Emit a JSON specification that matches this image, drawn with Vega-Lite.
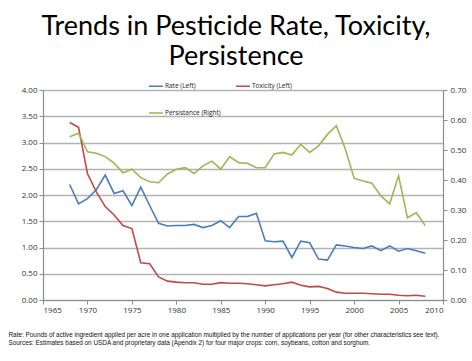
{
  "$schema": "https://vega.github.io/schema/vega-lite/v6.json",
  "width": 400,
  "height": 210,
  "autosize": {"type": "none"},
  "padding": {"left": 43, "top": 90, "right": 29, "bottom": 61},
  "background": "white",
  "config": {"view": {"stroke": null}, "font": "Open Sans"},
  "title": {
    "text": ["Trends in Pesticide Rate, Toxicity,", "Persistence"],
    "font": "Lato",
    "fontSize": 27,
    "fontWeight": "normal",
    "color": "#000000",
    "anchor": "middle",
    "dx": -7,
    "offset": 7,
    "lineHeight": 30
  },
  "data": {
    "values": [
      {"year": 1968, "series": "Rate (Left)", "value": 2.20},
      {"year": 1969, "series": "Rate (Left)", "value": 1.83},
      {"year": 1970, "series": "Rate (Left)", "value": 1.93},
      {"year": 1971, "series": "Rate (Left)", "value": 2.10},
      {"year": 1972, "series": "Rate (Left)", "value": 2.38},
      {"year": 1973, "series": "Rate (Left)", "value": 2.03},
      {"year": 1974, "series": "Rate (Left)", "value": 2.08},
      {"year": 1975, "series": "Rate (Left)", "value": 1.80},
      {"year": 1976, "series": "Rate (Left)", "value": 2.15},
      {"year": 1977, "series": "Rate (Left)", "value": 1.80},
      {"year": 1978, "series": "Rate (Left)", "value": 1.46},
      {"year": 1979, "series": "Rate (Left)", "value": 1.41},
      {"year": 1980, "series": "Rate (Left)", "value": 1.42},
      {"year": 1981, "series": "Rate (Left)", "value": 1.42},
      {"year": 1982, "series": "Rate (Left)", "value": 1.44},
      {"year": 1983, "series": "Rate (Left)", "value": 1.38},
      {"year": 1984, "series": "Rate (Left)", "value": 1.42},
      {"year": 1985, "series": "Rate (Left)", "value": 1.51},
      {"year": 1986, "series": "Rate (Left)", "value": 1.38},
      {"year": 1987, "series": "Rate (Left)", "value": 1.59},
      {"year": 1988, "series": "Rate (Left)", "value": 1.59},
      {"year": 1989, "series": "Rate (Left)", "value": 1.65},
      {"year": 1990, "series": "Rate (Left)", "value": 1.13},
      {"year": 1991, "series": "Rate (Left)", "value": 1.11},
      {"year": 1992, "series": "Rate (Left)", "value": 1.12},
      {"year": 1993, "series": "Rate (Left)", "value": 0.81},
      {"year": 1994, "series": "Rate (Left)", "value": 1.12},
      {"year": 1995, "series": "Rate (Left)", "value": 1.09},
      {"year": 1996, "series": "Rate (Left)", "value": 0.78},
      {"year": 1997, "series": "Rate (Left)", "value": 0.76},
      {"year": 1998, "series": "Rate (Left)", "value": 1.05},
      {"year": 1999, "series": "Rate (Left)", "value": 1.03},
      {"year": 2000, "series": "Rate (Left)", "value": 1.00},
      {"year": 2001, "series": "Rate (Left)", "value": 0.98},
      {"year": 2002, "series": "Rate (Left)", "value": 1.03},
      {"year": 2003, "series": "Rate (Left)", "value": 0.94},
      {"year": 2004, "series": "Rate (Left)", "value": 1.03},
      {"year": 2005, "series": "Rate (Left)", "value": 0.93},
      {"year": 2006, "series": "Rate (Left)", "value": 0.98},
      {"year": 2007, "series": "Rate (Left)", "value": 0.94},
      {"year": 2008, "series": "Rate (Left)", "value": 0.89},
      {"year": 1968, "series": "Toxicity (Left)", "value": 3.38},
      {"year": 1969, "series": "Toxicity (Left)", "value": 3.29},
      {"year": 1970, "series": "Toxicity (Left)", "value": 2.41},
      {"year": 1971, "series": "Toxicity (Left)", "value": 2.06},
      {"year": 1972, "series": "Toxicity (Left)", "value": 1.78},
      {"year": 1973, "series": "Toxicity (Left)", "value": 1.62},
      {"year": 1974, "series": "Toxicity (Left)", "value": 1.42},
      {"year": 1975, "series": "Toxicity (Left)", "value": 1.36},
      {"year": 1976, "series": "Toxicity (Left)", "value": 0.71},
      {"year": 1977, "series": "Toxicity (Left)", "value": 0.69},
      {"year": 1978, "series": "Toxicity (Left)", "value": 0.44},
      {"year": 1979, "series": "Toxicity (Left)", "value": 0.36},
      {"year": 1980, "series": "Toxicity (Left)", "value": 0.34},
      {"year": 1981, "series": "Toxicity (Left)", "value": 0.33},
      {"year": 1982, "series": "Toxicity (Left)", "value": 0.33},
      {"year": 1983, "series": "Toxicity (Left)", "value": 0.30},
      {"year": 1984, "series": "Toxicity (Left)", "value": 0.30},
      {"year": 1985, "series": "Toxicity (Left)", "value": 0.33},
      {"year": 1986, "series": "Toxicity (Left)", "value": 0.32},
      {"year": 1987, "series": "Toxicity (Left)", "value": 0.32},
      {"year": 1988, "series": "Toxicity (Left)", "value": 0.31},
      {"year": 1989, "series": "Toxicity (Left)", "value": 0.29},
      {"year": 1990, "series": "Toxicity (Left)", "value": 0.27},
      {"year": 1991, "series": "Toxicity (Left)", "value": 0.29},
      {"year": 1992, "series": "Toxicity (Left)", "value": 0.31},
      {"year": 1993, "series": "Toxicity (Left)", "value": 0.34},
      {"year": 1994, "series": "Toxicity (Left)", "value": 0.28},
      {"year": 1995, "series": "Toxicity (Left)", "value": 0.25},
      {"year": 1996, "series": "Toxicity (Left)", "value": 0.26},
      {"year": 1997, "series": "Toxicity (Left)", "value": 0.22},
      {"year": 1998, "series": "Toxicity (Left)", "value": 0.15},
      {"year": 1999, "series": "Toxicity (Left)", "value": 0.13},
      {"year": 2000, "series": "Toxicity (Left)", "value": 0.13},
      {"year": 2001, "series": "Toxicity (Left)", "value": 0.13},
      {"year": 2002, "series": "Toxicity (Left)", "value": 0.12},
      {"year": 2003, "series": "Toxicity (Left)", "value": 0.11},
      {"year": 2004, "series": "Toxicity (Left)", "value": 0.11},
      {"year": 2005, "series": "Toxicity (Left)", "value": 0.09},
      {"year": 2006, "series": "Toxicity (Left)", "value": 0.08},
      {"year": 2007, "series": "Toxicity (Left)", "value": 0.09},
      {"year": 2008, "series": "Toxicity (Left)", "value": 0.07},
      {"year": 1968, "series": "Persistance (Right)", "value": 0.544},
      {"year": 1969, "series": "Persistance (Right)", "value": 0.556},
      {"year": 1970, "series": "Persistance (Right)", "value": 0.494},
      {"year": 1971, "series": "Persistance (Right)", "value": 0.489},
      {"year": 1972, "series": "Persistance (Right)", "value": 0.478},
      {"year": 1973, "series": "Persistance (Right)", "value": 0.456},
      {"year": 1974, "series": "Persistance (Right)", "value": 0.424},
      {"year": 1975, "series": "Persistance (Right)", "value": 0.436},
      {"year": 1976, "series": "Persistance (Right)", "value": 0.408},
      {"year": 1977, "series": "Persistance (Right)", "value": 0.394},
      {"year": 1978, "series": "Persistance (Right)", "value": 0.391},
      {"year": 1979, "series": "Persistance (Right)", "value": 0.420},
      {"year": 1980, "series": "Persistance (Right)", "value": 0.436},
      {"year": 1981, "series": "Persistance (Right)", "value": 0.441},
      {"year": 1982, "series": "Persistance (Right)", "value": 0.422},
      {"year": 1983, "series": "Persistance (Right)", "value": 0.447},
      {"year": 1984, "series": "Persistance (Right)", "value": 0.463},
      {"year": 1985, "series": "Persistance (Right)", "value": 0.436},
      {"year": 1986, "series": "Persistance (Right)", "value": 0.478},
      {"year": 1987, "series": "Persistance (Right)", "value": 0.458},
      {"year": 1988, "series": "Persistance (Right)", "value": 0.456},
      {"year": 1989, "series": "Persistance (Right)", "value": 0.441},
      {"year": 1990, "series": "Persistance (Right)", "value": 0.441},
      {"year": 1991, "series": "Persistance (Right)", "value": 0.487},
      {"year": 1992, "series": "Persistance (Right)", "value": 0.492},
      {"year": 1993, "series": "Persistance (Right)", "value": 0.483},
      {"year": 1994, "series": "Persistance (Right)", "value": 0.519},
      {"year": 1995, "series": "Persistance (Right)", "value": 0.492},
      {"year": 1996, "series": "Persistance (Right)", "value": 0.514},
      {"year": 1997, "series": "Persistance (Right)", "value": 0.552},
      {"year": 1998, "series": "Persistance (Right)", "value": 0.581},
      {"year": 1999, "series": "Persistance (Right)", "value": 0.504},
      {"year": 2000, "series": "Persistance (Right)", "value": 0.406},
      {"year": 2001, "series": "Persistance (Right)", "value": 0.397},
      {"year": 2002, "series": "Persistance (Right)", "value": 0.389},
      {"year": 2003, "series": "Persistance (Right)", "value": 0.348},
      {"year": 2004, "series": "Persistance (Right)", "value": 0.320},
      {"year": 2005, "series": "Persistance (Right)", "value": 0.414},
      {"year": 2006, "series": "Persistance (Right)", "value": 0.274},
      {"year": 2007, "series": "Persistance (Right)", "value": 0.291},
      {"year": 2008, "series": "Persistance (Right)", "value": 0.248}
    ]
  },
  "encoding": {
    "x": {
      "field": "year",
      "type": "quantitative",
      "scale": {"domain": [1965, 2010], "nice": false, "zero": false},
      "axis": {
        "values": [1965, 1970, 1975, 1980, 1985, 1990, 1995, 2000, 2005, 2010],
        "format": "d",
        "grid": false,
        "domainColor": "#8c8c8c",
        "domainWidth": 1.2,
        "tickColor": "#8c8c8c",
        "tickSize": 4,
        "labelFont": "Open Sans",
        "labelFontSize": 8,
        "labelColor": "#333333",
        "labelPadding": 2,
        "title": ["Rate: Pounds of active ingredient applied per acre in one application multiplied by the number of applications per year (for other characteristics see text).", "Sources: Estimates based on USDA and proprietary data (Apendix 2) for four major crops: corn, soybeans, cotton and sorghum."],
        "titleFont": "Liberation Sans",
        "titleFontSize": 6.4,
        "titleFontWeight": "normal",
        "titleColor": "#111111",
        "titleAnchor": "start",
        "titleAlign": "left",
        "titleBaseline": "top",
        "titleX": -35,
        "titleY": 31,
        "titleLineHeight": 8.5
      }
    },
    "color": {
      "field": "series",
      "type": "nominal",
      "scale": {
        "domain": ["Rate (Left)", "Persistance (Right)", "Toxicity (Left)"],
        "range": ["#4a7ebb", "#98b954", "#be4b48"]
      },
      "legend": {
        "title": null,
        "orient": "none",
        "legendX": 105,
        "legendY": -12,
        "columns": 2,
        "symbolType": "stroke",
        "symbolSize": 196,
        "symbolStrokeWidth": 1.5,
        "labelFont": "Open Sans",
        "labelFontSize": 6.5,
        "labelColor": "#222222",
        "labelOffset": 1,
        "rowPadding": 15,
        "columnPadding": 12
      }
    }
  },
  "layer": [
    {
      "transform": [{"filter": "datum.series !== 'Persistance (Right)'"}],
      "mark": {"type": "line", "strokeWidth": 1.6},
      "encoding": {
        "y": {
          "field": "value",
          "type": "quantitative",
          "scale": {"domain": [0, 4], "nice": false},
          "axis": {
            "values": [0, 0.5, 1, 1.5, 2, 2.5, 3, 3.5, 4],
            "format": ".2f",
            "grid": true,
            "gridColor": "#b3b3b3",
            "gridWidth": 1.3,
            "domainColor": "#8c8c8c",
            "domainWidth": 1.2,
            "tickColor": "#8c8c8c",
            "tickSize": 4,
            "labelFont": "Open Sans",
            "labelFontSize": 8,
            "labelColor": "#333333",
            "labelPadding": 2,
            "title": null
          }
        }
      }
    },
    {
      "transform": [{"filter": "datum.series === 'Persistance (Right)'"}],
      "mark": {"type": "line", "strokeWidth": 1.6},
      "encoding": {
        "y": {
          "field": "value",
          "type": "quantitative",
          "scale": {"domain": [0, 0.7], "nice": false},
          "axis": {
            "orient": "right",
            "values": [0, 0.1, 0.2, 0.3, 0.4, 0.5, 0.6, 0.7],
            "format": ".2f",
            "grid": false,
            "domainColor": "#8c8c8c",
            "domainWidth": 1.2,
            "tickColor": "#8c8c8c",
            "tickSize": 4,
            "labelFont": "Open Sans",
            "labelFontSize": 8,
            "labelColor": "#333333",
            "labelPadding": 3,
            "title": null
          }
        }
      }
    }
  ],
  "resolve": {"scale": {"y": "independent"}}
}
